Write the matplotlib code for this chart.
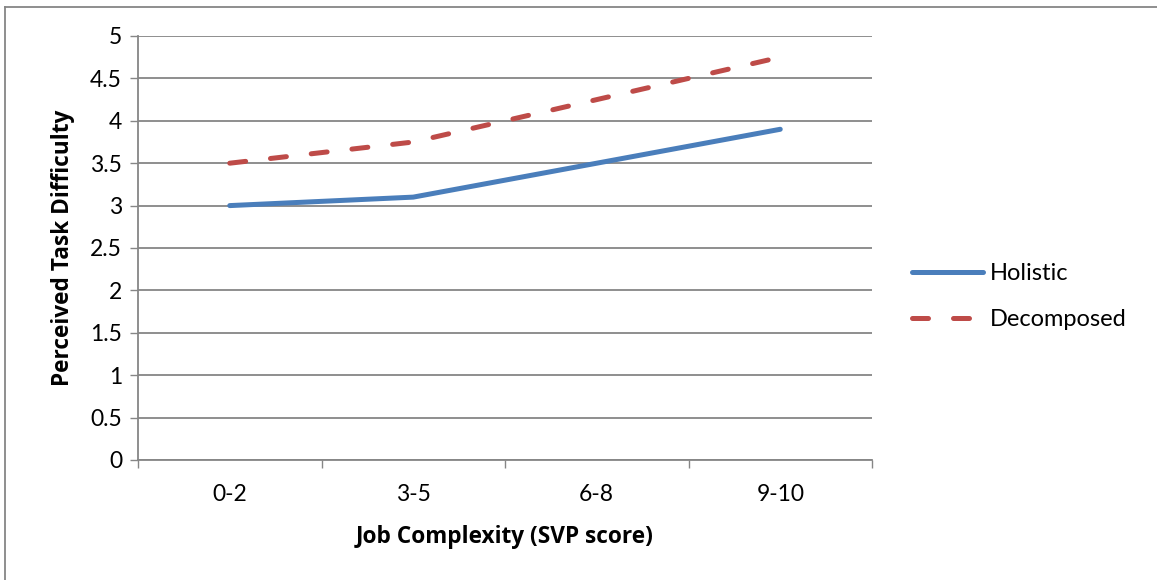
import matplotlib
matplotlib.use("Agg")
import matplotlib.pyplot as plt
from matplotlib.lines import Line2D
import numpy as np

categories = ["0-2", "3-5", "6-8", "9-10"]
holistic = [3.0, 3.1, 3.5, 3.9]
decomposed = [3.5, 3.75, 4.25, 4.75]
y_ticks = [0, 0.5, 1, 1.5, 2, 2.5, 3, 3.5, 4, 4.5, 5]
y_tick_labels = ["0", "0.5", "1", "1.5", "2", "2.5", "3", "3.5", "4", "4.5", "5"]

W, H = 1157, 580
DPI = 100
plt.rcParams["font.family"] = ["Lato", "DejaVu Sans"]
TICK_FS = 16.5
LEG_FS = 17
LABEL_FONT = {"family": ["Open Sans", "DejaVu Sans"], "weight": "bold", "size": 16.3}

fig = plt.figure(figsize=(W / DPI, H / DPI), dpi=DPI)
ax = fig.add_axes([138 / W, 1 - 460 / H, (872 - 138) / W, (460 - 36) / H])

grey = "#868686"
blue = "#4A7EBB"
red = "#BE4B48"

x = np.arange(len(categories))
ax.plot(x, holistic, color=blue, lw=3.6, solid_capstyle="round",
        solid_joinstyle="round", label="Holistic", zorder=3)
ax.plot(x, decomposed, color=red, lw=3.6, dashes=(3.2, 5.0),
        dash_capstyle="round", label="Decomposed", zorder=3)

ax.set_xlim(-0.5, len(categories) - 0.5)
ax.set_ylim(0, 5)
ax.set_yticks(y_ticks)
ax.set_yticklabels(y_tick_labels)
ax.set_xticks(x)
ax.set_xticklabels(categories)
ax.set_xticks(np.arange(-0.5, len(categories)), minor=True)

ax.tick_params(axis="y", which="major", length=5.5, width=1, color=grey,
               labelsize=TICK_FS, pad=6, labelcolor="black")
ax.tick_params(axis="x", which="major", length=0, labelsize=TICK_FS, pad=17,
               labelcolor="black")
ax.tick_params(axis="x", which="minor", length=5.5, width=1, color=grey)

ax.grid(axis="y", color=grey, lw=1.3)
ax.set_axisbelow(True)
for side in ("top", "right"):
    ax.spines[side].set_visible(False)
for side in ("left", "bottom"):
    ax.spines[side].set_color(grey)
    ax.spines[side].set_linewidth(1.3)

ax.set_xlabel("Job Complexity (SVP score)", fontdict=LABEL_FONT, labelpad=15)
ax.set_ylabel("Perceived Task Difficulty", fontdict=LABEL_FONT, labelpad=11)

leg = ax.legend(loc="center left", bbox_to_anchor=(1.0, 0.385), frameon=False,
                fontsize=LEG_FS, handlelength=3.0, handletextpad=0.3,
                labelspacing=1.05, borderaxespad=1.3)

# chart-area frame (top and left edges)
fig.add_artist(Line2D([5.5 / W, 1.0], [1 - 6.5 / H, 1 - 6.5 / H],
                      transform=fig.transFigure, color=grey, lw=1.3))
fig.add_artist(Line2D([5.5 / W, 5.5 / W], [0, 1 - 6.5 / H],
                      transform=fig.transFigure, color=grey, lw=1.3))

fig.savefig("out.png", dpi=DPI, facecolor="white")
